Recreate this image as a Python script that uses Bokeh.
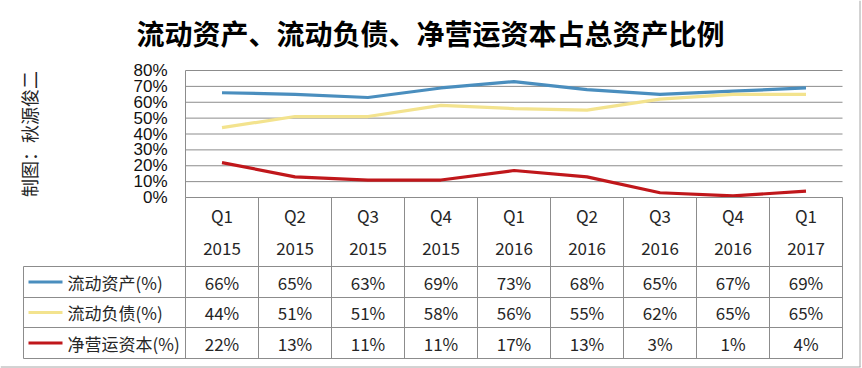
import math
from bokeh.plotting import figure
from bokeh.models import Range1d, FixedTicker, NumeralTickFormatter, ColumnDataSource
from bokeh.core.properties import value
from bokeh.embed import file_html
from bokeh.resources import INLINE

# ---------------- data ----------------
quarters = ["Q1", "Q2", "Q3", "Q4", "Q1", "Q2", "Q3", "Q4", "Q1"]
years = ["2015", "2015", "2015", "2015", "2016", "2016", "2016", "2016", "2017"]
series_names = ["流动资产(%)", "流动负债(%)", "净营运资本(%)"]
current_assets = [66, 65, 63, 69, 73, 68, 65, 67, 69]
current_liabilities = [44, 51, 51, 58, 56, 55, 62, 65, 65]
working_capital = [22, 13, 11, 11, 17, 13, 3, 1, 4]
y_ticks = [0, 0.1, 0.2, 0.3, 0.4, 0.5, 0.6, 0.7, 0.8]
title_text = "流动资产、流动负债、净营运资本占总资产比例"
credit_text = "制图：秋源俊二"

series = [current_assets, current_liabilities, working_capital]
colors = ["#4A8EBE", "#F3E38E", "#C0171B"]

CJK = "Noto Sans CJK SC"
GRID = "#8c8c8c"
TXT = "#262626"
n = len(quarters)
xs = [i + 0.5 for i in range(n)]

# ---------------- layout constants (page pixels) ----------------
W, H = 862, 368
ORG = 0                 # figure origin on the page
AX_X = 185              # chart left edge
TOP_Y = 70              # 80% line
ZERO_Y = 197            # 0% line / table top
col_px = 73.0
px_per_unit = (ZERO_Y - TOP_Y) / 0.8

x_start = (ORG - AX_X) / col_px
x_end = (ORG + W - AX_X) / col_px
y_top = 0.8 + (TOP_Y - ORG) / px_per_unit
y_bot = -(ORG + H - ZERO_Y) / px_per_unit

def px_x(sx):
    return (sx - AX_X) / col_px

leg_x = px_x(23)
head_h = 69
row_edges = [head_h, 100, 130, 161]

p = figure(width=W, height=H, x_range=Range1d(x_start, x_end), y_range=Range1d(y_bot, y_top),
           output_backend="svg", toolbar_location=None, x_axis_location=None,
           min_border_left=0, min_border_right=0, min_border_top=0, min_border_bottom=0)
# table rows measured in pixels below the 0% line
p.extra_y_ranges = {"table": Range1d(ORG + H - ZERO_Y, ORG - ZERO_Y)}
p.outline_line_color = None
p.background_fill_color = "white"
p.border_fill_color = "white"
p.xgrid.grid_line_color = None
p.ygrid.grid_line_color = None

# ---- y axis placed at the chart's left edge ----
ya = p.yaxis[0]
ya.fixed_location = 0
ya.bounds = (0, 0.8)
ya.ticker = FixedTicker(ticks=y_ticks)
ya.formatter = NumeralTickFormatter(format="0%")
ya.major_label_text_font = "Liberation Sans"
ya.major_label_text_font_size = "17px"
ya.major_label_text_color = "#111111"
ya.major_tick_line_color = None
ya.minor_tick_line_color = None
ya.major_tick_out = 0
ya.major_tick_in = 0
ya.major_label_standoff = 18
ya.axis_line_color = GRID

# ---- horizontal grid lines of the chart ----
p.segment(x0=[0] * len(y_ticks), x1=[n] * len(y_ticks), y0=y_ticks, y1=y_ticks,
          line_color=GRID, line_width=1)

# ---- series lines ----
for vals, c in zip(series, colors):
    src = ColumnDataSource(dict(x=xs, y=[v / 100 for v in vals]))
    p.line("x", "y", source=src, line_color=c, line_width=3.2)

# ---- title and credit ----
p.text(x=[px_x(430)], y=[32 - ZERO_Y], text=[title_text], text_font=value(CJK),
       text_font_style="bold", text_font_size="28px", text_color="#000000",
       text_align="center", text_baseline="middle", y_range_name="table")
p.text(x=[px_x(28)], y=[0.4], text=[credit_text], text_font=value(CJK),
       text_font_size="18px", text_color=TXT, angle=math.pi / 2,
       text_align="center", text_baseline="middle")

# ---- outer chart frame (right and bottom edges) ----
p.segment(x0=[px_x(859.5), 0 + px_x(0)], y0=[-ZERO_Y, 366.5 - ZERO_Y],
          x1=[px_x(859.5), px_x(860)], y1=[366.5 - ZERO_Y, 366.5 - ZERO_Y],
          line_color="#a6a6a6", line_width=1, y_range_name="table")

# ---------------- data table ----------------
hx0, hx1, hy0, hy1 = [0], [n], [0], [0]
for ye in row_edges:
    hx0.append(leg_x); hx1.append(n); hy0.append(ye); hy1.append(ye)
for i in range(0, n + 1):
    hx0.append(i); hx1.append(i); hy0.append(0); hy1.append(row_edges[-1])
hx0.append(leg_x); hx1.append(leg_x); hy0.append(head_h); hy1.append(row_edges[-1])
p.segment(x0=hx0, y0=hy0, x1=hx1, y1=hy1, line_color=GRID, line_width=1, y_range_name="table")

p.text(x=xs, y=[18] * n, text=quarters, text_font=value(CJK), text_font_size="17px",
       text_color=TXT, text_align="center", text_baseline="middle", y_range_name="table")
p.text(x=xs, y=[51] * n, text=years, text_font=value(CJK), text_font_size="17px",
       text_color=TXT, text_align="center", text_baseline="middle", y_range_name="table")

for r, (name, vals, c) in enumerate(zip(series_names, series, colors)):
    yc = (row_edges[r] + row_edges[r + 1]) / 2
    p.text(x=xs, y=[yc] * n, text=[f"{v}%" for v in vals], text_font=value(CJK),
           text_font_size="17px", text_color=TXT, text_align="center", text_baseline="middle",
           y_range_name="table")
    p.segment(x0=[px_x(28)], y0=[yc], x1=[px_x(62)], y1=[yc],
              line_color=c, line_width=3.2, y_range_name="table")
    p.text(x=[px_x(67)], y=[yc], text=[name], text_font=value(CJK),
           text_font_size="17px", text_color=TXT, text_align="left", text_baseline="middle",
           y_range_name="table")

open("out.html", "w").write(file_html(p, INLINE))
